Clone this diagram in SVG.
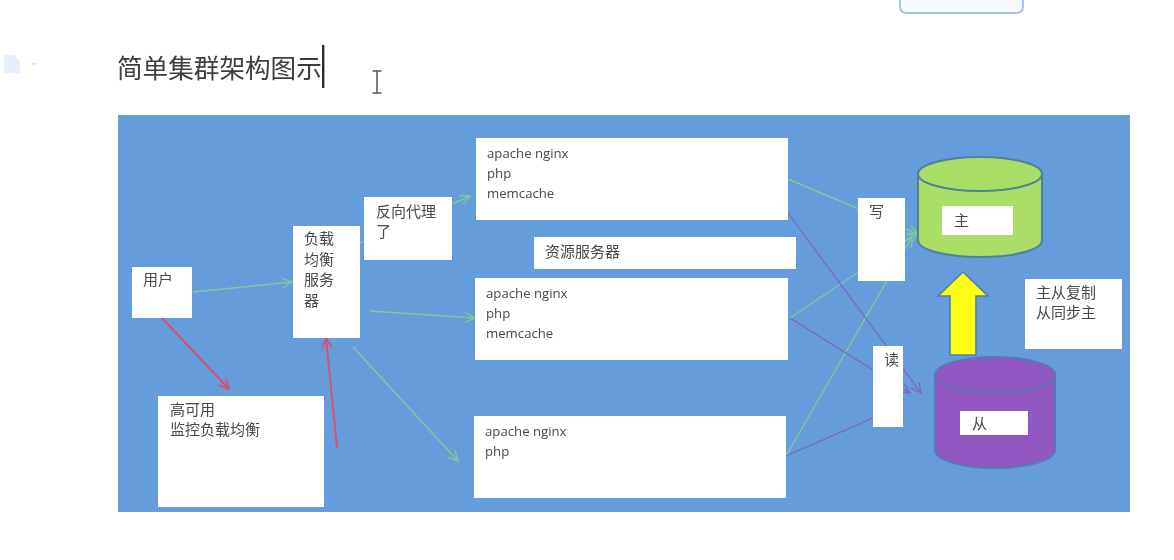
<svg xmlns="http://www.w3.org/2000/svg" width="1174" height="560" viewBox="0 0 1174 560">
<defs>
<style>
.zh{font-family:"Noto Sans CJK SC","Noto Sans",sans-serif;font-size:15px;fill:#484848}
.en{font-family:"Open Sans","Noto Sans",sans-serif;font-size:13.2px;fill:#484848}
.box{fill:#fff}
.g,.r,.p{fill:none;stroke-width:1.5}
.g{stroke:#7fc99a;marker-end:url(#ag)}
.r{stroke:#d9506b;stroke-width:2;marker-end:url(#ar)}
.p{stroke:#7d62bc;stroke-width:1.2;marker-end:url(#ap)}
</style>
<marker id="ag" markerUnits="userSpaceOnUse" markerWidth="14" markerHeight="14" refX="11" refY="6" orient="auto"><path d="M1 1L11 6L1 11" fill="none" stroke="#7fc99a" stroke-width="1.4"/></marker>
<marker id="ar" markerUnits="userSpaceOnUse" markerWidth="14" markerHeight="14" refX="11" refY="6" orient="auto"><path d="M1 1L11 6L1 11" fill="none" stroke="#d9506b" stroke-width="1.6"/></marker>
<marker id="ap" markerUnits="userSpaceOnUse" markerWidth="14" markerHeight="14" refX="11" refY="6" orient="auto"><path d="M1 1L11 6L1 11" fill="none" stroke="#7d62bc" stroke-width="1.2"/></marker>
<filter id="soft" x="-2%" y="-2%" width="104%" height="104%"><feGaussianBlur stdDeviation="0.55"/></filter>
</defs>
<rect width="1174" height="560" fill="#fff"/>
<g filter="url(#soft)">
<g id="chrome">
<path d="M900 -4V6Q900 13 907 13H1016Q1023 13 1023 6V-4" fill="#f6fbff" stroke="#a3c6f0" stroke-width="2"/>
<path d="M4 55H14L20 61V73H4Z" fill="#e3effc"/>
<path d="M31 63H37L34 66Z" fill="#e2e2e2"/>
<text x="117" y="78" font-family="'Noto Sans CJK SC','Noto Sans',sans-serif" font-size="25.6" fill="#3c3c3c">简单集群架构图示</text>
<rect x="322" y="45" width="2.4" height="43" fill="#2a2a3a"/>
<path d="M372.500 71H381.500M377 71V93M372.500 93H381.500" fill="none" stroke="#555" stroke-width="1.5"/>
</g>
<rect id="panel" x="118" y="115" width="1012" height="397" fill="#659cdc"/>
<g id="connectors">
<path class="g" d="M193 292L292 282"/>
<path class="r" d="M162 318L229 389"/>
<path class="r" d="M337 448L326 338"/>
<path class="g" d="M360 243L452 204L470 196"/>
<path class="g" d="M370 311L475 318"/>
<path class="g" d="M353 347L458 461"/>
<path class="g" d="M788 179L918 234"/>
<path class="g" d="M790 318L918 232"/>
<path class="g" d="M786 456L912 237"/>
<path class="p" d="M788 213L921 393"/>
<path class="p" d="M790 318L910 393"/>
<path class="p" d="M786 456L873 418L903 400"/>
</g>
<g id="user"><rect class="box" x="132" y="267" width="60" height="51"/><text class="zh" x="143" y="285">用户</text></g>
<g id="lb"><rect class="box" x="293" y="226" width="67" height="112"/><text class="zh" x="304" y="244">负载</text><text class="zh" x="304" y="265">均衡</text><text class="zh" x="304" y="285">服务</text><text class="zh" x="304" y="306">器</text></g>
<g id="proxy"><rect class="box" x="364" y="197" width="88" height="63"/><text class="zh" x="376" y="217">反向代理</text><text class="zh" x="376" y="237">了</text></g>
<g id="app1"><rect class="box" x="476" y="138" width="312" height="82"/><text class="en" x="487" y="158">apache nginx</text><text class="en" x="487" y="178">php</text><text class="en" x="487" y="198">memcache</text></g>
<g id="res"><rect class="box" x="534" y="237" width="262" height="32"/><text class="zh" x="545" y="257">资源服务器</text></g>
<g id="app2"><rect class="box" x="475" y="278" width="313" height="82"/><text class="en" x="486" y="298">apache nginx</text><text class="en" x="486" y="318">php</text><text class="en" x="486" y="338">memcache</text></g>
<g id="app3"><rect class="box" x="474" y="416" width="312" height="82"/><text class="en" x="485" y="436">apache nginx</text><text class="en" x="485" y="456">php</text></g>
<g id="ha"><rect class="box" x="158" y="396" width="166" height="111"/><text class="zh" x="170" y="415">高可用</text><text class="zh" x="170" y="435">监控负载均衡</text></g>
<g id="write"><rect class="box" x="858" y="198" width="47" height="83"/><text class="zh" x="869" y="217">写</text></g>
<g id="read"><rect class="box" x="873" y="346" width="30" height="81"/><text class="zh" x="884" y="365">读</text></g>
<g id="master">
<path d="M918 174V240C918 250 946 257 980 257S1042 250 1042 240V174Z" fill="#aade66" stroke="#4f8296" stroke-width="2"/>
<ellipse cx="980" cy="174" rx="62" ry="17" fill="#aade66" stroke="#4f8296" stroke-width="2"/>
<rect class="box" x="942" y="206" width="71" height="29"/><text class="zh" x="954" y="226">主</text>
</g>
<g id="slave">
<path d="M935 375V450C935 460 962 468 995 468S1055 460 1055 450V375Z" fill="#9159c3" stroke="#5b76b8" stroke-width="2"/>
<ellipse cx="995" cy="375" rx="60" ry="18" fill="#9159c3" stroke="#5b76b8" stroke-width="2"/>
<rect class="box" x="960" y="411" width="68" height="24"/><text class="zh" x="972" y="429">从</text>
</g>
<g id="repl-arrow"><path d="M963 272L988 296H976V355H950V296H938Z" fill="#ffff14" stroke="#4f7fa8" stroke-width="1.6"/></g>
<g id="repl"><rect class="box" x="1025" y="279" width="97" height="70"/><text class="zh" x="1036" y="298">主从复制</text><text class="zh" x="1036" y="318">从同步主</text></g>
</g>
</svg>
